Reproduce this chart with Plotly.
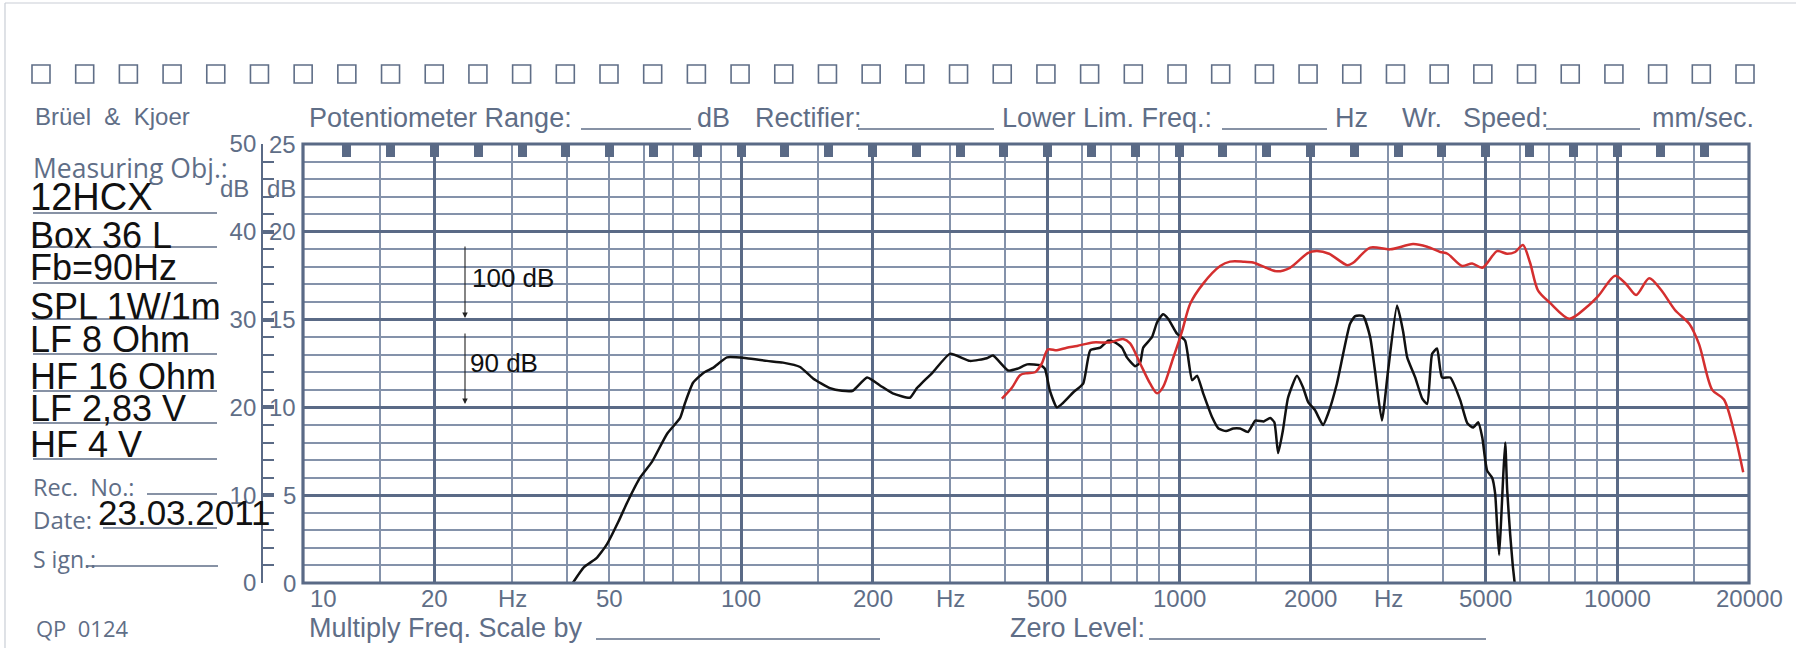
import numpy as np
import plotly.graph_objects as go

# ---------------- data ----------------
lf_freq = [41.3, 43.8, 46.7, 49.4, 52.5, 55.0, 58.8, 62.6, 67.8, 72.6, 74.5, 77.7, 81.9, 86.3, 92.9,
           103, 114.6, 124.7, 136.4, 146, 159.6, 170, 180, 194, 207.6, 222, 243, 252, 259, 274,
           300, 333, 364, 376, 407, 427, 450, 482, 494, 507, 526, 543, 573, 604, 627, 661, 689,
           714, 741, 760, 794, 815, 828, 867, 891, 919, 944, 989, 1032, 1071, 1099, 1135, 1189,
           1230, 1280, 1330, 1377, 1437, 1493, 1560, 1614, 1650, 1683, 1726, 1773, 1858, 1918,
           1971, 2042, 2131, 2189, 2292, 2455, 2523, 2631, 2730, 2800, 2904, 3000, 3145, 3245,
           3317, 3460, 3590, 3684, 3782, 3881, 3983, 4159, 4385, 4550, 4694, 4818, 4921, 5048,
           5184, 5266, 5321, 5378, 5433, 5492, 5553, 5610, 5700, 5780, 5835]
lf_db = [0.0, 1.8, 2.8, 4.4, 7.0, 9.2, 12.0, 13.8, 17.0, 18.8, 20.5, 22.8, 23.9, 24.5, 25.7,
         25.6, 25.3, 25.1, 24.6, 23.3, 22.2, 21.9, 21.9, 23.4, 22.5, 21.6, 21.1, 22.2, 22.8, 24.0,
         26.1, 25.3, 25.6, 25.9, 24.2, 24.4, 24.9, 24.8, 24.4, 21.9, 20.0, 20.5, 21.7, 22.7, 26.5,
         26.8, 27.6, 27.4, 26.8, 25.7, 24.7, 25.1, 26.8, 28.0, 29.7, 30.6, 30.1, 28.4, 27.6, 23.1,
         23.6, 21.6, 18.9, 17.6, 17.3, 17.6, 17.6, 17.2, 18.5, 18.4, 18.8, 18.3, 14.8, 17.4, 21.1,
         23.6, 22.3, 20.6, 19.7, 18.0, 19.3, 22.7, 29.5, 30.4, 30.4, 28.0, 24.2, 18.5, 24.2, 31.6,
         28.7, 25.7, 23.4, 21.0, 20.4, 26.1, 26.7, 23.4, 23.4, 20.8, 18.2, 17.7, 18.3, 16.6, 12.8,
         12.0, 10.2, 6.5, 3.2, 7.0, 12.0, 16.0, 10.6, 5.5, 1.9, 0.0]

hf_freq = [394, 416, 434, 450, 469, 486, 502, 526, 554, 585, 636, 695, 745, 773, 815, 859, 891,
           919, 969, 1016, 1060, 1135, 1241, 1307, 1400, 1475, 1580, 1674, 1791, 1971, 2064, 2200,
           2422, 2500, 2730, 3033, 3420, 3684, 3946, 4100, 4428, 4667, 4921, 5322, 5606, 5850,
           6095, 6325, 6600, 7030, 7780, 8510, 9060, 9900, 10500, 11050, 11830, 12590, 13550,
           14620, 15380, 16480, 17530, 18580, 19400]
hf_db = [21.0, 22.3, 23.7, 23.9, 24.0, 25.0, 26.6, 26.5, 26.8, 27.0, 27.4, 27.4, 27.8, 27.3, 25.0,
         22.7, 21.6, 22.3, 25.6, 28.7, 31.8, 34.1, 36.1, 36.6, 36.6, 36.5, 35.9, 35.5, 35.9, 37.6,
         37.8, 37.5, 36.2, 36.5, 38.2, 38.0, 38.6, 38.3, 37.7, 37.5, 36.1, 36.4, 35.9, 37.8, 37.5,
         37.7, 38.5, 36.5, 33.3, 31.9, 30.1, 31.4, 32.7, 35.0, 34.0, 32.8, 34.7, 33.4, 31.1, 29.5,
         27.2, 22.0, 20.9, 16.8, 12.6]

major_x = [20, 100, 200, 500, 1000, 2000, 5000, 10000]
minor_x = [15, 30, 40, 50, 60, 70, 80, 90, 150, 300, 400, 600, 700, 800, 900, 1500,
           3000, 4000, 6000, 7000, 8000, 9000, 15000]
top_marks = [10 ** (1 + k / 10) for k in range(1, 34)]
freq_label_pos = [10, 20, 30, 50, 100, 200, 300, 500, 1000, 2000, 3000, 5000, 10000, 20000]
freq_label_text = ['10', '20', 'Hz', '50', '100', '200', 'Hz', '500', '1000', '2000', 'Hz',
                   '5000', '10000', '20000']
left_scale = [0, 10, 20, 30, 40, 50]
right_scale_text = ['0', '5', '10', '15', '20', '25']
entries = ['12HCX', 'Box 36 L', 'Fb=90Hz', 'SPL 1W/1m', 'LF 8 Ohm', 'HF 16 Ohm', 'LF 2,83 V', 'HF 4 V']

# ---------------- geometry (page pixels -> paper) ----------------
FW, FH = 1796, 648
PLOT_L, PLOT_R, PLOT_T, PLOT_B = 303, 1749, 144, 583
SCALE_X = 262                      # left dB scale line
L = SCALE_X
R = FW - PLOT_R
T = PLOT_T
B = FH - PLOT_B
PW = PLOT_R - SCALE_X
PH = PLOT_B - PLOT_T
X_DOM0 = (PLOT_L - SCALE_X) / PW


def px(x):
    return (x - SCALE_X) / PW


def py(y):
    return (PLOT_B - y) / PH


FORM = '#5f6e87'
GRID_HEAVY = '#5a6a86'
GRID_THIN = '#8492aa'
INK = '#111111'
RED = '#d42f2f'
SANS = 'Liberation Sans, Arial, sans-serif'
ROUND = 'Open Sans, Liberation Sans, sans-serif'

fig = go.Figure()
fig.add_trace(go.Scatter(x=lf_freq, y=lf_db, mode='lines',
                         line=dict(color=INK, width=2.5, shape='spline', smoothing=0.5),
                         hoverinfo='skip', showlegend=False))
fig.add_trace(go.Scatter(x=hf_freq, y=hf_db, mode='lines', xaxis='x2',
                         line=dict(color=RED, width=2.5, shape='spline', smoothing=0.8),
                         hoverinfo='skip', showlegend=False))

ann = []
shapes = []


def text(x, y, s, size, color=FORM, anchor='left', family=SANS):
    ann.append(dict(x=px(x), y=py(y), xref='paper', yref='paper', text=s, showarrow=False,
                    xanchor=anchor, yanchor='middle',
                    font=dict(size=size, color=color, family=family)))


def hline(x0, x1, y, color=FORM, width=1.5):
    shapes.append(dict(type='line', xref='paper', yref='paper', x0=px(x0), x1=px(x1),
                       y0=py(y), y1=py(y), line=dict(color=color, width=width)))


# row of squares
n_sq = 40
for i in range(n_sq):
    cx = 41 + i * (1745 - 41) / (n_sq - 1)
    shapes.append(dict(type='rect', xref='paper', yref='paper', x0=px(cx - 9), x1=px(cx + 9),
                       y0=py(65), y1=py(83), line=dict(color=FORM, width=1.6)))

# header row
text(307, 118, 'Potentiometer Range:', 27)
hline(581, 691, 129)
text(695, 118, 'dB', 27)
text(753, 118, 'Rectifier:', 27)
hline(858, 994, 129)
text(1000, 118, 'Lower Lim. Freq.:', 27)
hline(1222, 1327, 129)
text(1333, 118, 'Hz', 27)
text(1400, 118, 'Wr.', 27)
text(1461, 118, 'Speed:', 27)
hline(1546, 1640, 129)
text(1650, 118, 'mm/sec.', 27)

# left panel
text(33, 117, 'Brüel  &  Kjoer', 24)
text(31, 168, 'Measuring Obj.:', 26.5, family=ROUND)
entry_y = [197, 235, 267, 306, 339, 376, 408, 444]
under_y = [213, 247, 283, 319, 354, 391, 423, 459]
for s, yy in zip(entries, entry_y):
    text(28, yy, s, 38 if s == '12HCX' else 36, color=INK)
for yy in under_y:
    hline(33, 217, yy)
text(31, 487, 'Rec.  No.:', 23.5, family=ROUND)
hline(147, 217, 494)
text(31, 519, 'Date:', 24, family=ROUND)
hline(103, 217, 528)
text(96, 512, '23.03.2011', 35, color=INK)
text(31, 559, 'S ign.:', 23, family=ROUND)
hline(86, 218, 566)
text(34, 628, 'QP  0124', 22, family=ROUND)

# dB labels of the scale
text(251, 188, 'dB', 24, anchor='right')
text(298, 188, 'dB', 24, anchor='right')
for v, s in zip(left_scale, right_scale_text):
    ann.append(dict(x=px(298), y=v, xref='paper', yref='y', text=s, showarrow=False,
                    xanchor='right', yanchor='middle', font=dict(size=24, color=FORM, family=SANS)))

# frequency labels
for f, s in zip(freq_label_pos, freq_label_text):
    a = dict(x=np.log10(f), y=py(598), xref='x', yref='paper', text=s, showarrow=False,
             xanchor='center', yanchor='middle', font=dict(size=24, color=FORM, family=SANS))
    if f == 10:
        a['xanchor'] = 'left'
        a['xshift'] = 5
    ann.append(a)

# bottom row
text(307, 628, 'Multiply Freq. Scale by', 27)
hline(596, 880, 639)
text(1008, 628, 'Zero Level:', 27)
hline(1149, 1486, 639)

# level arrows
for tip, tail in [(318, 245), (404, 332)]:
    ann.append(dict(x=px(465), y=py(tip), xref='paper', yref='paper', text='', showarrow=True,
                    ax=0, ay=-(tip - tail), arrowhead=2, arrowsize=1, arrowwidth=1.1,
                    arrowcolor='#222222'))
text(470, 278, '100 dB', 26, color=INK)
text(468, 363, '90 dB', 26, color=INK)

# faint sheet edge (left and top)
shapes.append(dict(type='line', xref='paper', yref='paper', x0=px(5), x1=px(5),
                   y0=py(3), y1=py(648), line=dict(color='#c9ced6', width=1.2)))
shapes.append(dict(type='line', xref='paper', yref='paper', x0=px(5), x1=px(1796),
                   y0=py(3), y1=py(3), line=dict(color='#c9ced6', width=1.2)))

# plot border
shapes.append(dict(type='rect', xref='x domain', yref='y domain', x0=0, x1=1, y0=0, y1=1,
                   line=dict(color=GRID_HEAVY, width=3.2), layer='above'))

xr = [1, np.log10(20000)]
fig.update_layout(
    width=FW, height=FH, margin=dict(l=L, r=R, t=T, b=B),
    paper_bgcolor='white', plot_bgcolor='white', showlegend=False,
    xaxis=dict(type='log', range=xr, domain=[X_DOM0, 1], anchor='y',
               tickmode='array', tickvals=major_x, showticklabels=False, ticks='',
               showgrid=True, gridcolor=GRID_HEAVY, gridwidth=3, zeroline=False, showline=False,
               minor=dict(tickmode='array', tickvals=minor_x, showgrid=True,
                          gridcolor=GRID_THIN, gridwidth=1.8, ticks='')),
    xaxis2=dict(type='log', range=xr, overlaying='x', side='top', anchor='y',
                tickmode='array', tickvals=top_marks, ticks='inside', ticklen=13, tickwidth=9,
                tickcolor=GRID_HEAVY, showticklabels=False, showgrid=False, zeroline=False,
                showline=False),
    yaxis=dict(range=[0, 50], anchor='free', position=0, tickmode='linear', tick0=0, dtick=10,
               ticks='inside', ticklen=11, tickwidth=4, tickcolor=GRID_HEAVY,
               showline=True, linecolor=GRID_HEAVY, linewidth=1.8,
               showgrid=True, gridcolor=GRID_HEAVY, gridwidth=3, zeroline=False,
               tickfont=dict(size=24, color=FORM, family=SANS),
               minor=dict(dtick=2, ticks='inside', ticklen=11, tickwidth=1.5,
                          tickcolor=GRID_HEAVY, showgrid=True, gridcolor=GRID_THIN,
                          gridwidth=1.8)),
    annotations=ann, shapes=shapes,
)

# the page body normally has an 8 px margin; remove it so the figure fills the window
fig.write_html('out.html', config={'displayModeBar': False},
               post_script="document.body.style.margin='0px';")
